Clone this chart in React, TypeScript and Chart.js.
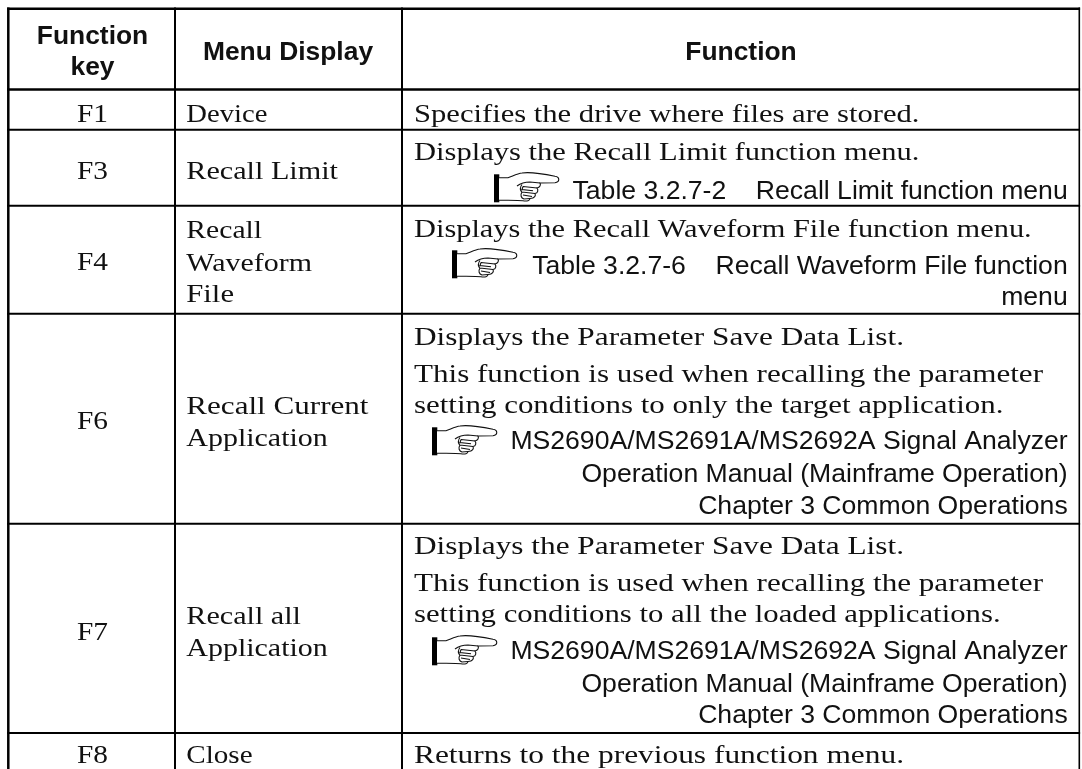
import React, { useEffect, useRef } from "react";
import { Chart, registerables } from "chart.js";

Chart.register(...registerables);

const W = 1082;
const H = 769;

// table content
const headerKey = ["Function", "key"];
const headerMenu = ["Menu Display"];
const headerFunc = ["Function"];
const functionKeys = ["F1", "F3", "F4", "F6", "F7", "F8"];
const menuLines = ["Device", "Recall Limit", "Recall", "Waveform", "File", "Recall Current", "Application", "Recall all", "Application", "Close"];
const serifLines = [
  "Specifies the drive where files are stored.",
  "Displays the Recall Limit function menu.",
  "Displays the Recall Waveform File function menu.",
  "Displays the Parameter Save Data List.",
  "This function is used when recalling the parameter",
  "setting conditions to only the target application.",
  "Displays the Parameter Save Data List.",
  "This function is used when recalling the parameter",
  "setting conditions to all the loaded applications.",
  "Returns to the previous function menu.",
];
const refLines = [
  "Table 3.2.7-2    Recall Limit function menu",
  "Table 3.2.7-6    Recall Waveform File function",
  "menu",
  "MS2690A/MS2691A/MS2692A Signal Analyzer",
  "Operation Manual (Mainframe Operation)",
  "Chapter 3 Common Operations",
  "MS2690A/MS2691A/MS2692A Signal Analyzer",
  "Operation Manual (Mainframe Operation)",
  "Chapter 3 Common Operations",
];

// rule positions in the table's own units
const verticalRules = [8.3, 175, 402, 1079.3];
const verticalWidths = [2.5, 2, 2, 1.6];
const horizontalRules = [8.7, 89.5, 129.8, 205.8, 313.8, 523.8, 732.9];
const horizontalWidths = [2.5, 2.3, 2, 2, 2, 2, 2];

// text placement
const colKeyCenter = 92.5;
const colMenuCenter = 288;
const colMenuLeft = 186.3;
const colFuncLeft = 414;
const colFuncCenter = 741;
const colRight = 1067.7;
const headerKeyBase = [44, 75];
const headerBase = 60;
const keyBase = [122, 179, 270, 429, 640, 763];
const menuBase = [122, 179, 238, 271, 302, 414, 446, 624, 656, 763];
const serifBase = [122, 160, 237, 345, 382, 413, 554, 591, 622, 763];
const refBase = [199, 274, 305, 449, 482, 514, 659, 692, 723];
const keyWidth = 31;
const menuRight = [267.4, 338, 262, 312, 234, 368.5, 327.8, 301, 327.8, 252.6];
const serifRight = [919.5, 919.5, 1031.7, 904, 1043, 1003.4, 904, 1043, 1000.6, 904];
const handX = [494, 452, 432, 432];
const handY = [172, 248, 425, 635];

const SERIF = '25.5px "Liberation Serif"';
const SANS = '26.6px "Liberation Sans"';
const BOLD = 'bold 26.4px "Liberation Sans"';

function drawHand(ctx: CanvasRenderingContext2D, x: number, y: number) {
  ctx.save();
  ctx.translate(x, y);
  ctx.fillStyle = "#000";
  ctx.fillRect(0, 2.3, 5.3, 28);
  ctx.strokeStyle = "#111";
  ctx.lineWidth = 1.1;
  ctx.fillStyle = "#fff";
  const o = new Path2D(
    "M5 5.7 L14 5.7 C18 4.5 23 1.5 28 1 C35 0 50 2 61 4.3 C66 5 66 10 61 10.7 L46 11 C47 13 46 15.5 43 16 C44.5 18 44 21 41 21.5 C42 23.5 41 26 36 26.5 C36 28.5 33 29.5 29 28.8 C24 28 12 28.3 5 28.3"
  );
  ctx.fill(o);
  ctx.stroke(o);
  const inner = new Path2D(
    "M46 11 L36 10 C32 10 27 11 23 14 M43 16 L29 14.5 M28 12.5 C26 15 26 18 28 20.5 M41 21.5 L28 20 C26 23 27 26 30 27 L36 26.5 M29 14.5 L28 17.5 L39 18.8 M29 23 L38 24.5"
  );
  ctx.stroke(inner);
  ctx.restore();
}

const tablePlugin = {
  id: "tableText",
  afterDatasetsDraw(chart: any) {
    const { ctx, scales } = chart;
    const px = (v: number) => scales.x.getPixelForValue(v);
    const py = (v: number) => scales.y.getPixelForValue(v);
    const put = (t: string, x: number, y: number, font: string, align: "left" | "center" | "right", width = 0) => {
      ctx.save();
      ctx.font = font;
      ctx.fillStyle = "#111";
      ctx.textBaseline = "alphabetic";
      ctx.textAlign = align;
      ctx.translate(px(x), py(y));
      if (width) ctx.scale(width / ctx.measureText(t).width, 1);
      ctx.fillText(t, 0, 0);
      ctx.restore();
    };
    headerKey.forEach((t, i) => put(t, colKeyCenter, headerKeyBase[i], BOLD, "center"));
    put(headerMenu[0], colMenuCenter, headerBase, BOLD, "center");
    put(headerFunc[0], colFuncCenter, headerBase, BOLD, "center");
    functionKeys.forEach((t, i) => put(t, colKeyCenter, keyBase[i], SERIF, "center", keyWidth));
    menuLines.forEach((t, i) => put(t, colMenuLeft, menuBase[i], SERIF, "left", menuRight[i] - colMenuLeft));
    serifLines.forEach((t, i) => put(t, colFuncLeft, serifBase[i], SERIF, "left", serifRight[i] - colFuncLeft));
    refLines.forEach((t, i) => put(t, colRight, refBase[i], SANS, "right"));
    handX.forEach((x, i) => drawHand(ctx, px(x), py(handY[i])));
  },
};

export default function App() {
  const ref = useRef<HTMLCanvasElement>(null);
  useEffect(() => {
    const datasets: any[] = [];
    verticalRules.forEach((x, i) =>
      datasets.push({
        data: [{ x, y: horizontalRules[0] - 1.2 }, { x, y: H }],
        borderColor: "#000",
        borderWidth: verticalWidths[i],
        pointRadius: 0,
        showLine: true,
      })
    );
    horizontalRules.forEach((y, i) =>
      datasets.push({
        data: [{ x: verticalRules[0] - 1.2, y }, { x: verticalRules[3] + 0.8, y }],
        borderColor: "#000",
        borderWidth: horizontalWidths[i],
        pointRadius: 0,
        showLine: true,
      })
    );
    const chart = new Chart(ref.current!, {
      type: "scatter",
      data: { datasets },
      options: {
        animation: false,
        responsive: false,
        layout: { padding: 0 },
        plugins: { legend: { display: false }, tooltip: { enabled: false }, title: { display: false } },
        scales: {
          x: { type: "linear", min: 0, max: W, display: false },
          y: { type: "linear", min: 0, max: H, reverse: true, display: false },
        },
      },
      plugins: [tablePlugin],
    } as any);
    return () => chart.destroy();
  }, []);
  return (
    <div style={{ position: "absolute", left: 0, top: 0, width: W, height: H, background: "#fff" }}>
      <canvas ref={ref} width={W} height={H} style={{ display: "block" }} />
    </div>
  );
}
